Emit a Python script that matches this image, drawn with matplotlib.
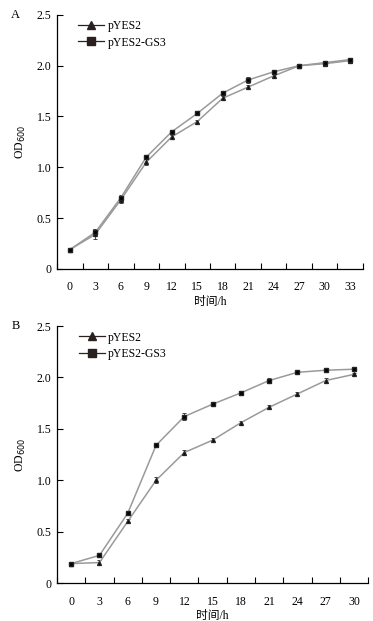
import numpy as np
import matplotlib.pyplot as plt

plt.rcParams['font.family'] = ['Liberation Serif', 'Noto Sans CJK SC']
plt.rcParams['font.size'] = 8.5

# panel A data
time_a = [0, 3, 6, 9, 12, 15, 18, 21, 24, 27, 30, 33]
pyes2_a = [0.19, 0.34, 0.68, 1.05, 1.30, 1.45, 1.68, 1.79, 1.90, 2.00, 2.02, 2.05]
gs3_a = [0.19, 0.36, 0.70, 1.10, 1.35, 1.53, 1.73, 1.86, 1.94, 2.00, 2.03, 2.06]
err_a_tri = [0.01, 0.05, 0.03, 0.03, 0.02, 0.02, 0.02, 0.02, 0.02, 0.01, 0.02, 0.02]
err_a_sq = [0.01, 0.03, 0.03, 0.02, 0.02, 0.02, 0.02, 0.03, 0.02, 0.01, 0.02, 0.02]

# panel B data
time_b = [0, 3, 6, 9, 12, 15, 18, 21, 24, 27, 30]
pyes2_b = [0.19, 0.20, 0.60, 1.00, 1.27, 1.39, 1.56, 1.71, 1.84, 1.97, 2.03]
gs3_b = [0.19, 0.27, 0.68, 1.34, 1.62, 1.74, 1.85, 1.97, 2.05, 2.07, 2.08]
err_b_tri = [0.01, 0.02, 0.02, 0.03, 0.02, 0.02, 0.02, 0.02, 0.02, 0.02, 0.01]
err_b_sq = [0.01, 0.02, 0.02, 0.02, 0.03, 0.01, 0.02, 0.02, 0.01, 0.01, 0.01]

fig = plt.figure(figsize=(3.73, 6.21), dpi=100)
ax_a = fig.add_axes([0.153, 0.567, 0.820, 0.409])
ax_b = fig.add_axes([0.153, 0.061, 0.834, 0.414])

line_col = '#9a9a9a'


def draw_panel(ax, t, tri, sq, etri, esq, letter):
    t = np.array(t)
    for y, e, m in [(tri, etri, '^'), (sq, esq, 's')]:
        ax.errorbar(t, y, yerr=e, color=line_col, lw=1.1, ecolor='#444444',
                    elinewidth=0.7, capsize=1.5, capthick=0.7,
                    marker=m, ms=2.8, mfc='black', mec='#222222', zorder=3)
    # legend proxies
    ax.plot([], [], color='#2a2020', lw=0.9, marker='^', ms=6, label='pYES2')
    ax.plot([], [], color='#2a2020', lw=0.9, marker='s', ms=6, label='pYES2-GS3')
    handles, labels = ax.get_legend_handles_labels()
    ax.legend(handles[-2:], labels[-2:], loc='upper left', frameon=False,
              bbox_to_anchor=(0.035, 1.02), handlelength=2.2, handletextpad=0.3,
              labelspacing=0.35, fontsize=8.5)

    step = t[1] - t[0]
    ax.set_xlim(t[0] - step / 2, t[-1] + step / 2)
    ax.set_ylim(0, 2.5)
    ax.set_xticks(np.append(t - step / 2, t[-1] + step / 2))
    ax.set_xticklabels([])
    ax.set_xticks(t, minor=True)
    ax.set_xticklabels([str(v) for v in t], minor=True)
    ax.tick_params(axis='x', which='minor', length=0, pad=9)
    ax.tick_params(axis='x', which='major', length=4, width=0.8, direction='in')
    ax.set_yticks([0, 0.5, 1.0, 1.5, 2.0, 2.5])
    ax.set_yticklabels(['0', '0.5', '1.0', '1.5', '2.0', '2.5'])
    ax.tick_params(axis='y', length=4, width=0.8, direction='in', pad=4)
    for s in ['top', 'right']:
        ax.spines[s].set_visible(False)
    for s in ['left', 'bottom']:
        ax.spines[s].set_linewidth(0.9)
    ax.set_xlabel('时间/h', labelpad=2)
    ax.set_ylabel('OD$_{600}$', labelpad=6)
    ax.text(-0.12, 1.0, letter, transform=ax.transAxes, ha='right', va='center',
            fontsize=9)


draw_panel(ax_a, time_a, pyes2_a, gs3_a, err_a_tri, err_a_sq, 'A')
draw_panel(ax_b, time_b, pyes2_b, gs3_b, err_b_tri, err_b_sq, 'B')

fig.savefig('out.png', dpi=100)
